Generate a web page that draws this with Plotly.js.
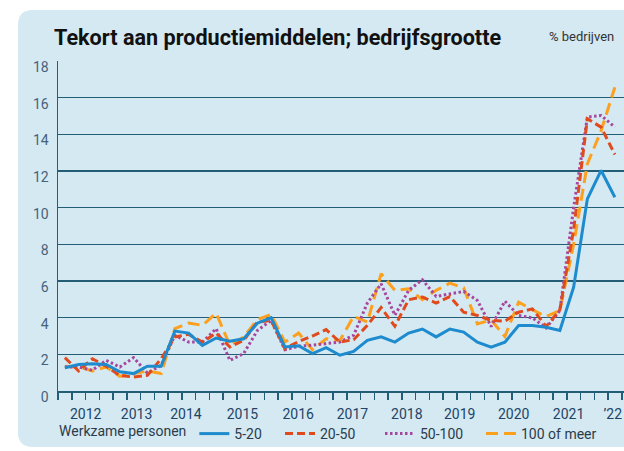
<!DOCTYPE html>
<html>
<head>
<meta charset="utf-8">
<script src="https://cdn.plot.ly/plotly-3.0.1.min.js"></script>
<style>
html,body{margin:0;padding:0;background:#fff;}
#chart{width:624px;height:451px;}
</style>
</head>
<body>
<div id="chart"></div>
<script>
// Quarterly periods 2012 Q1 – 2022 Q1
const quarters = [];
for (let y = 2012; y <= 2022; y++) {
  for (let q = 1; q <= 4; q++) {
    if (y === 2022 && q > 1) break;
    quarters.push(y + ' K' + q);
  }
}

const seriesNames = ['5-20', '20-50', '50-100', '100 of meer'];

const s5_20 = [1.27,1.45,1.49,1.45,1.05,0.95,1.35,1.35,3.27,3.16,2.49,2.89,2.71,2.85,3.7,4.0,2.4,2.47,2.04,2.36,1.95,2.16,2.76,2.95,2.67,3.16,3.38,2.95,3.38,3.21,2.66,2.39,2.66,3.57,3.57,3.48,3.3,5.66,10.48,12.03,10.57];
const s20_50 = [1.82,1.09,1.76,1.35,0.85,0.76,0.85,1.76,2.95,3.09,2.67,3.16,2.4,2.76,3.76,3.85,2.31,2.7,3.0,3.35,2.67,2.8,3.58,4.55,3.53,4.98,5.13,4.8,5.15,4.3,4.12,3.85,3.81,4.3,4.48,3.52,4.43,8.8,14.85,14.39,12.9];
const s50_100 = [1.31,1.31,1.13,1.67,1.31,1.82,0.98,1.4,3.04,2.67,2.67,3.4,1.67,2.04,3.3,3.85,2.25,2.44,2.5,2.58,2.67,3.04,4.8,5.85,4.13,5.49,6.07,5.16,5.3,5.43,4.94,3.52,4.9,4.12,3.99,3.44,4.39,10.0,14.94,15.03,14.39];
const s100plus = [1.35,1.31,1.09,1.31,0.8,0.95,1.09,0.95,3.4,3.71,3.58,4.25,2.49,2.95,3.89,4.18,2.67,3.16,2.25,2.85,2.76,4.07,3.76,6.4,5.49,5.58,4.98,5.49,5.88,5.63,3.66,3.88,2.97,4.85,4.43,4.06,4.39,8.0,12.39,14.2,16.57];

const yearLabels = ['2012','2013','2014','2015','2016','2017','2018','2019','2020','2021','\u201922'];
const yTicks = [0,2,4,6,8,10,12,14,16,18];
const legendTitle = 'Werkzame personen';

// ---- layout / style (positions, not data) ----
const W = 624, H = 451;
const M = {l: 58, r: 0, t: 61, b: 60};
const yearLabelPos = [1.51,5.21,8.8,12.91,16.97,20.91,24.87,28.71,32.64,36.63,39.85];
const yearBounds = [];
for (let i = 0; i < 10; i++) yearBounds.push(-0.5 + 4 * i);

const xIdx = quarters.map((q, i) => i);
const styles = [
  {color: '#1d8bcd', dash: 'solid', legend: 'legend'},
  {color: '#e04a1c', dash: '8px,4px', legend: 'legend2'},
  {color: '#a6479d', dash: '2.5px,2.5px', legend: 'legend3'},
  {color: '#fda01d', dash: '12px,6px', legend: 'legend4'}
];
const values = [s5_20, s20_50, s50_100, s100plus];

const traces = [];
for (let k = 3; k >= 0; k--) {
  traces.push({
    type: 'scatter', mode: 'lines', name: seriesNames[k],
    x: xIdx, y: values[k], text: quarters,
    legend: styles[k].legend,
    line: {color: styles[k].color, width: 3, dash: styles[k].dash},
    hoverinfo: 'text+y+name'
  });
}

const pw = W - M.l - M.r, ph = H - M.t - M.b;
const px2x = p => (p - M.l) / pw;
const py2y = p => (H - M.b - p) / ph;
const L = px2x(18), R = px2x(640), T = py2y(10), B = py2y(447);
const rx = 15 / pw, ry = 15 / ph;
const panelPath = `M${L},${T - ry} Q${L},${T} ${L + rx},${T} L${R},${T} L${R},${B} L${L + rx},${B} Q${L},${B} ${L},${B + ry} Z`;

const legFont = {family: 'Roboto, sans-serif', size: 14, color: '#2b3b4c'};
function mkLegend(px, withTitle) {
  const o = {
    orientation: 'h',
    x: px / W, xref: 'container', xanchor: 'left',
    y: 1 - 434 / H, yref: 'container', yanchor: 'middle',
    bgcolor: 'rgba(0,0,0,0)', borderwidth: 0,
    font: legFont, itemwidth: 30
  };
  if (withTitle) o.title = {text: legendTitle, side: 'left', font: legFont};
  return o;
}

const grid = '#245d76';
const layout = {
  width: W, height: H,
  margin: M,
  paper_bgcolor: '#ffffff',
  plot_bgcolor: 'rgba(0,0,0,0)',
  font: {family: 'Roboto, sans-serif', size: 14, color: '#1d4467'},
  title: {
    text: 'Tekort aan productiemiddelen; bedrijfsgrootte',
    x: 54 / W, xanchor: 'left', xref: 'container',
    y: 1 - 37 / H, yanchor: 'middle', yref: 'container',
    font: {family: 'Roboto, sans-serif', size: 21.6, color: '#111111', weight: 700}
  },
  showlegend: true,
  legend: mkLegend(57, true),
  legend2: mkLegend(280, false),
  legend3: mkLegend(380, false),
  legend4: mkLegend(481, false),
  xaxis: {
    type: 'linear', range: [-0.5, -0.5 + pw / 13.75],
    showgrid: false, zeroline: false,
    showline: true, linecolor: grid, linewidth: 1.5,
    tickmode: 'array', tickvals: yearBounds, ticktext: yearBounds.map(() => ''),
    ticks: 'outside', ticklen: 11, tickwidth: 1.5, tickcolor: grid,
    showticklabels: false,
    minor: {ticks: 'outside', ticklen: 7, tickwidth: 1.5, tickcolor: grid, tickmode: 'linear', tick0: -0.5, dtick: 1, showgrid: false},
    fixedrange: true
  },
  xaxis2: {
    overlaying: 'x', matches: 'x', anchor: 'y', side: 'bottom',
    showgrid: false, zeroline: false, showline: false,
    tickmode: 'array', tickvals: yearLabelPos, ticktext: yearLabels,
    ticks: '', ticklabelstandoff: 13,
    tickfont: {family: 'Roboto, sans-serif', size: 14, color: '#1d4467'}
  },
  yaxis: {
    range: [0, 18], tickmode: 'array', tickvals: yTicks,
    showgrid: true, gridcolor: grid, gridwidth: 1.2,
    zeroline: false, showline: true, linecolor: grid, linewidth: 1.5,
    ticks: '', ticklabelstandoff: 5, ticklabelshift: 6,
    tickfont: {family: 'Roboto, sans-serif', size: 14, color: '#46627a'},
    fixedrange: true
  },
  shapes: [{
    type: 'path', xref: 'paper', yref: 'paper', layer: 'below',
    path: panelPath, fillcolor: '#d4e9f2', line: {width: 0}
  }],
  annotations: [{
    text: '% bedrijven', xref: 'paper', yref: 'paper',
    x: px2x(616), xanchor: 'right', y: py2y(37), yanchor: 'middle',
    showarrow: false, font: {family: 'Roboto, sans-serif', size: 13, color: '#333333'}
  }]
};

// dummy trace to activate xaxis2 for year labels
traces.unshift({type: 'scatter', x: [0], y: [null], xaxis: 'x2', yaxis: 'y', showlegend: false, hoverinfo: 'skip', mode: 'lines'});

Plotly.newPlot('chart', traces, layout, {displayModeBar: false, staticPlot: true});
</script>
</body>
</html>
